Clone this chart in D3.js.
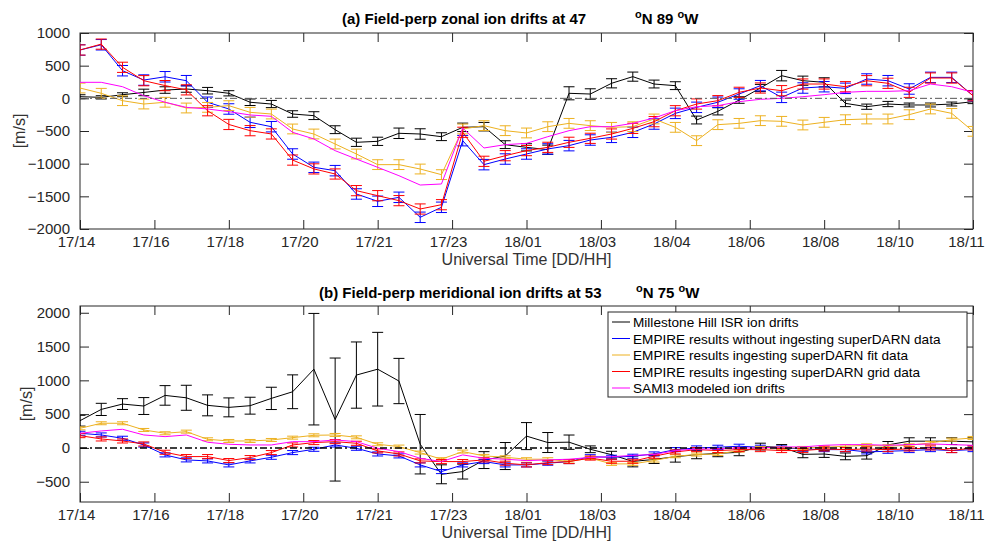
<!DOCTYPE html>
<html>
<head>
<meta charset="utf-8">
<script src="https://cdn.jsdelivr.net/npm/d3@7"></script>
<style>
  body { margin: 0; background: #fff; }
  svg { font-family: "Liberation Sans", Arial, sans-serif; }
</style>
</head>
<body>
<svg id="chart" width="990" height="546"></svg>
<script>
// time of each sample, hours since 17/00 UT
var hours = [14, 14.5, 15, 15.5, 16, 16.5, 17, 17.5, 18, 18.5, 19, 19.5, 20, 20.5, 21, 21.5,
    22, 22.5, 23, 23.5, 24, 24.5, 25, 25.5, 26, 26.5, 27, 27.5, 28, 28.5, 29, 29.5,
    30, 30.5, 31, 31.5, 32, 32.5, 33, 33.5, 34, 34.5, 35]

var xTickVals = [14, 15.75, 17.5, 19.25, 21, 22.75, 24.5, 26.25, 28, 29.75, 31.5, 33.25, 35]
var xTickLabels = ["17/14", "17/16", "17/18", "17/20", "17/21", "17/23", "18/01", "18/03",
    "18/04", "18/06", "18/08", "18/10", "18/11"]

var yTicksA = [-2000, -1500, -1000, -500, 0, 500, 1000]
var yTicksB = [-500, 0, 500, 1000, 1500, 2000]

var seriesNames = ["Millestone Hill ISR ion drifts",
    "EMPIRE results without ingesting superDARN data",
    "EMPIRE results ingesting superDARN fit data",
    "EMPIRE results ingesting superDARN grid data",
    "SAMI3 modeled ion drifts"]
var seriesColors = ["#000000", "#0000ff", "#edb120", "#ff0000", "#ff00ff"]

// (a) zonal drifts, m/s
var isrA = [25, 15, 55, 90, 127, 143, 117, 77, -60, -87, -240, -265, -480, -673, -658, -535,
    -546, -587, -444, -434, -709, -750, -786, 77, 66, 230, 332, 219, 194, -332, -199, -26,
    158, 347, 270, 245, -77, -128, -87, -102, -102, -87, -51]
var errIsrA = [30, 25, 30, 50, 50, 50, 50, 40, 50, 55, 50, 60, 60, 63, 63, 80, 80, 60, 65, 65,
    60, 55, 70, 100, 80, 70, 70, 60, 60, 60, 55, 50, 55, 80, 70, 70, 50, 40, 40, 30, 30, 30, 30]
var blueA = [740, 820, 423, 280, 330, 270, -60, -163, -367, -434, -852, -1056, -1107, -1464,
    -1576, -1515, -1821, -1668, -648, -1015, -929, -852, -775, -724, -638, -597, -520, -393,
    -230, -138, -60, 66, 194, 15, 158, 178, 153, 296, 270, 143, 321, 321, 40]
var fitA = [158, 77, -36, -87, -60, -148, -138, -112, -214, -240, -469, -546, -699, -852, -1015,
    -1015, -1082, -1168, -469, -418, -495, -530, -434, -383, -418, -444, -434, -316, -444, -648,
    -403, -383, -342, -352, -408, -367, -327, -316, -316, -250, -163, -230, -505]
var gridA = [740, 830, 475, 270, 195, 130, -190, -400, -495, -545, -945, -1080, -1158, -1413,
    -1490, -1566, -1694, -1628, -520, -964, -878, -800, -750, -673, -612, -546, -460, -357,
    -190, -87, -36, 92, 158, 117, 219, 219, 178, 270, 230, 92, 311, 311, 40]
var samiA = [245, 245, 178, 40, -60, -138, -163, -204, -255, -275, -520, -622, -801, -929,
    -1056, -1184, -1327, -1311, -454, -760, -709, -689, -587, -495, -434, -434, -383, -301,
    -189, -128, -112, -51, -15, 0, 25, 56, 92, 107, 107, 117, 219, 178, 92]
var modelErrA = [80, 75, 78]   // blue, fit, grid half-widths

// (b) meridional drifts, m/s
var isrB = [403, 570, 649, 620, 777, 742, 630, 600, 625, 733, 831, 1165, 420, 1078, 1165, 990,
    55, -390, -350, -180, -120, 175, 80, 85, -20, -100, -200, -170, -130, -100, -80, -65,
    20, 10, -95, -90, -125, -115, 45, 100, 100, 100, 90]
var errIsrB = [80, 90, 80, 125, 145, 185, 155, 140, 125, 165, 250, 825, 910, 490, 545, 335,
    440, 140, 110, 125, 200, 200, 148, 106, 50, 50, 80, 60, 80, 60, 50, 50, 50, 40, 50, 50,
    50, 50, 50, 50, 50, 50, 60]
var blueB = [217, 192, 143, 44, -103, -177, -192, -251, -192, -138, -69, -20,
    44, -5, -89, -118, -251, -350, -251, -202, -251, -251, -226, -202,
    -130, -138, -123, -89, -25, 0, 10, 25, 10,
    0, -15, -25, -25, -59, -49, -39, -25, -39, -25]
var fitB = [290, 365, 365, 266, 217, 241, 128, 103, 103, 118, 152, 187,
    192, 157, 54, 20, -69, -167, -54, -118, -138, -167, -167, -202,
    -150, -236, -236, -187, -123, -98, -89, -39, 0,
    0, 0, 10, 25, 39, 25, 39, 74, 123, 148]
var gridB = [182, 133, 103, 59, -64, -128, -128, -187, -143, -69, 44, 79,
    93, 69, -44, -89, -192, -202, -202, -177, -226, -251, -217, -202,
    -150, -197, -197, -123, -59, -25, -39, -25, -25,
    -39, -39, -15, -25, -15, -25, -15, 0, -39, 0]
var samiB = [217, 251, 276, 192, 167, 192, 84, 54, 44, 44, 93, 93,
    118, 93, -5, -54, -153, -202, -103, -153, -167, -187, -177, -167,
    -140, -130, -110, -98, -39, -15, -15, 0, 0,
    15, 15, 39, 49, 49, 39, 49, 59, 49, 39]
var modelErrB = [30, 22, 30]

var svg = d3.select("svg#chart")
var left = 80, right = 973

var x = d3.scaleLinear().domain([14, 35]).range([left, right])

function drawPanel(opt) {
    var y = d3.scaleLinear().domain(opt.domain).range([opt.bottom, opt.top])
    var g = svg.append("g")
    var clipId = "clip" + opt.id
    svg.append("defs").append("clipPath").attr("id", clipId)
        .append("rect").attr("x", left).attr("y", opt.top)
        .attr("width", right - left).attr("height", opt.bottom - opt.top)

    // axes, ticks pointing inward like matlab
    var xb = d3.axisBottom(x).tickValues(xTickVals)
        .tickFormat(function(d, i) { return xTickLabels[i] })
        .tickSizeInner(-9).tickSizeOuter(0).tickPadding(7)
    var xt = d3.axisTop(x).tickValues(xTickVals).tickFormat("")
        .tickSizeInner(-9).tickSizeOuter(0)
    var yl = d3.axisLeft(y).tickValues(opt.yTicks).tickFormat(d3.format("d"))
        .tickSizeInner(-9).tickSizeOuter(0).tickPadding(10)
    var yr = d3.axisRight(y).tickValues(opt.yTicks).tickFormat("")
        .tickSizeInner(-9).tickSizeOuter(0)

    var gx = g.append("g").attr("transform", "translate(0," + opt.bottom + ")").call(xb)
    g.append("g").attr("transform", "translate(0," + opt.top + ")").call(xt)
    g.append("g").attr("transform", "translate(" + left + ",0)").call(yl)
    g.append("g").attr("transform", "translate(" + right + ",0)").call(yr)
    g.selectAll(".domain").remove()
    g.selectAll(".tick line").attr("stroke", "#262626")
    g.selectAll(".tick text").attr("fill", "#262626").style("font-size", "15px")
        .style("font-family", "'Liberation Sans', Arial, sans-serif")
    // matlab nudges the labels a little left, and the last one stays inside the figure
    gx.selectAll(".tick text").attr("dx", function(d, i) {
        return i == xTickVals.length - 1 ? -7 : -4
    })

    g.append("rect").attr("x", left).attr("y", opt.top)
        .attr("width", right - left).attr("height", opt.bottom - opt.top)
        .attr("fill", "none").attr("stroke", "#262626").attr("stroke-width", 1)

    var plot = g.append("g").attr("clip-path", "url(#" + clipId + ")")
    var line = d3.line().x(function(d, i) { return x(hours[i]) }).y(function(d) { return y(d) })

    opt.series.forEach(function(s) {
        plot.append("path").datum(s.values)
            .attr("d", line).attr("fill", "none")
            .attr("stroke", s.color).attr("stroke-width", 1)
        if (!s.err) return
        var eb = plot.append("g").attr("stroke", s.color).attr("stroke-width", 1)
        s.values.forEach(function(v, i) {
            var e = Array.isArray(s.err) ? s.err[i] : s.err
            var cx = x(hours[i])
            var y1 = y(v - e), y2 = y(v + e)
            eb.append("line").attr("x1", cx).attr("x2", cx).attr("y1", y1).attr("y2", y2)
            eb.append("line").attr("x1", cx - 5.5).attr("x2", cx + 5.5).attr("y1", y1).attr("y2", y1)
            eb.append("line").attr("x1", cx - 5.5).attr("x2", cx + 5.5).attr("y1", y2).attr("y2", y2)
        })
    })

    // zero reference line
    plot.append("line").attr("x1", left).attr("x2", right)
        .attr("y1", y(0)).attr("y2", y(0))
        .attr("stroke", opt.zeroColor).attr("stroke-width", opt.zeroWidth)
        .attr("stroke-dasharray", "7,3,2,3")

    // title with degree superscripts
    var t = g.append("text").attr("y", opt.titleY)
        .style("font-size", "15px").style("font-weight", "bold").attr("fill", "#000")
    t.append("tspan").attr("x", opt.titleX).text(opt.title)
    t.append("tspan").attr("x", opt.degX).attr("dy", -6).style("font-size", "11px").text("o")
    t.append("tspan").attr("dy", 6).text("N " + opt.lon + " ")
    t.append("tspan").attr("dy", -6).style("font-size", "11px").text("o")
    t.append("tspan").attr("dy", 6).text("W")

    g.append("text").attr("x", (left + right) / 2).attr("y", opt.bottom + 36)
        .attr("text-anchor", "middle").attr("fill", "#333").style("font-size", "16px")
        .text("Universal Time [DD/HH]")

    g.append("text")
        .attr("transform", "translate(" + opt.ylabX + "," + ((opt.top + opt.bottom) / 2) + ") rotate(-90)")
        .attr("text-anchor", "middle").attr("fill", "#333").style("font-size", "16px")
        .text("[m/s]")
}

drawPanel({
    id: "A", top: 33, bottom: 229, domain: [-2000, 1000], yTicks: yTicksA,
    title: "(a) Field-perp zonal ion drifts at 47", titleX: 342, titleY: 24, degX: 635, lon: "89",
    ylabX: 25, zeroColor: "#555", zeroWidth: 1,
    series: [
        { values: isrA, err: errIsrA, color: seriesColors[0] },
        { values: blueA, err: modelErrA[0], color: seriesColors[1] },
        { values: fitA, err: modelErrA[1], color: seriesColors[2] },
        { values: gridA, err: modelErrA[2], color: seriesColors[3] },
        { values: samiA, err: null, color: seriesColors[4] }
    ]
})

drawPanel({
    id: "B", top: 306, bottom: 502, domain: [-800, 2100], yTicks: yTicksB,
    title: "(b) Field-perp meridional ion drifts at 53", titleX: 319, titleY: 298, degX: 636, lon: "75",
    ylabX: 32, zeroColor: "#000", zeroWidth: 1.6,
    series: [
        { values: isrB, err: errIsrB, color: seriesColors[0] },
        { values: blueB, err: modelErrB[0], color: seriesColors[1] },
        { values: fitB, err: modelErrB[1], color: seriesColors[2] },
        { values: gridB, err: modelErrB[2], color: seriesColors[3] },
        { values: samiB, err: null, color: seriesColors[4] }
    ]
})

// legend in panel b
var lg = svg.append("g").attr("transform", "translate(608,312)")
lg.append("rect").attr("width", 359).attr("height", 85)
    .attr("fill", "#fff").attr("stroke", "#262626").attr("stroke-width", 1)
seriesNames.forEach(function(name, i) {
    var yy = 10 + i * 16.5
    lg.append("line").attr("x1", 4).attr("x2", 22).attr("y1", yy).attr("y2", yy)
        .attr("stroke", seriesColors[i]).attr("stroke-width", 1)
    lg.append("text").attr("x", 25).attr("y", yy + 5).attr("fill", "#000")
        .style("font-size", "13.6px").text(name)
})
</script>
</body>
</html>
